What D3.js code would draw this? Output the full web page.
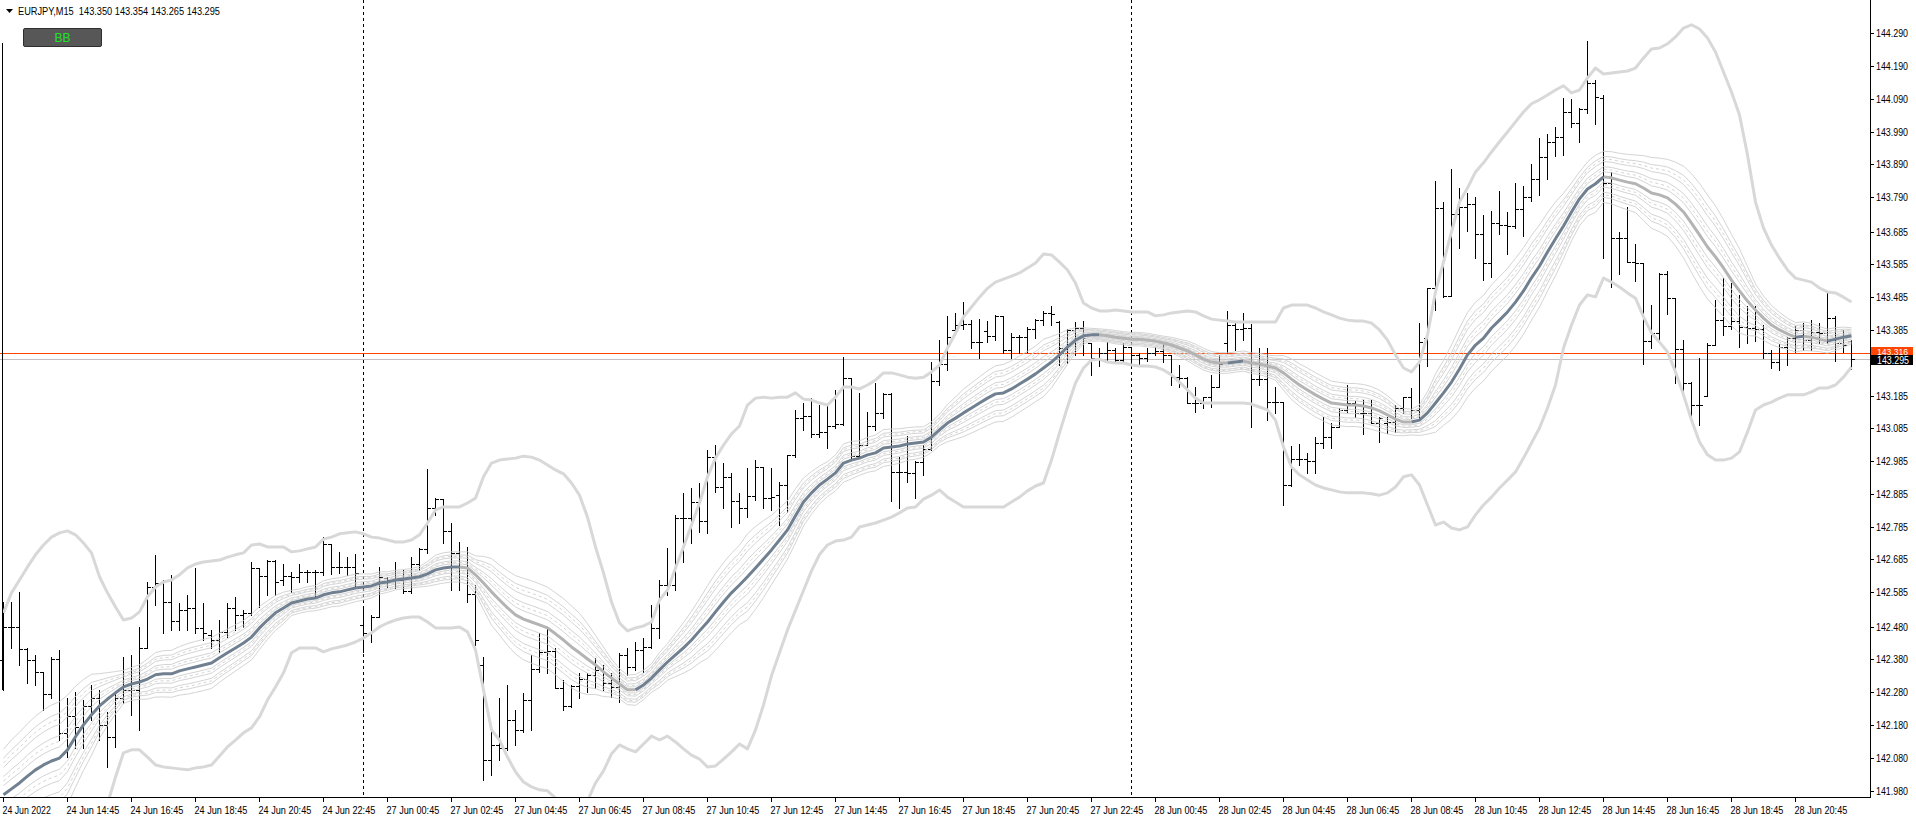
<!DOCTYPE html>
<html><head><meta charset="utf-8">
<script src="https://cdn.jsdelivr.net/npm/d3@7"></script>
<style>body{margin:0;background:#fff;overflow:hidden}text{font-family:"Liberation Sans",Arial,sans-serif}</style>
</head><body><svg id="c" width="1916" height="819"></svg>
<script>
const symbolLabel = "EURJPY,M15";
const headerValues = ["143.350","143.354","143.265","143.295"];
const askPrice = 143.316, bidPrice = 143.295;
const separatorBars = [45, 141];
const timeTickBars = [0,8,16,24,32,40,48,56,64,72,80,88,96,104,112,120,128,136,144,152,160,168,176,184,192,200,208,216,224];
const timeTickLabels = ["24 Jun 2022","24 Jun 14:45","24 Jun 16:45","24 Jun 18:45","24 Jun 20:45","24 Jun 22:45","27 Jun 00:45","27 Jun 02:45","27 Jun 04:45","27 Jun 06:45","27 Jun 08:45","27 Jun 10:45","27 Jun 12:45","27 Jun 14:45","27 Jun 16:45","27 Jun 18:45","27 Jun 20:45","27 Jun 22:45","28 Jun 00:45","28 Jun 02:45","28 Jun 04:45","28 Jun 06:45","28 Jun 08:45","28 Jun 10:45","28 Jun 12:45","28 Jun 14:45","28 Jun 16:45","28 Jun 18:45","28 Jun 20:45"];
const priceTickLabels = ["144.290","144.190","144.090","143.990","143.890","143.790","143.685","143.585","143.485","143.385","143.285","143.185","143.085","142.985","142.885","142.785","142.685","142.585","142.480","142.380","142.280","142.180","142.080","141.980"];

const opens = [142.378,142.479,142.479,142.412,142.378,142.342,142.275,142.381,142.156,142.208,
142.174,142.238,142.262,142.180,142.144,142.262,142.287,142.287,142.415,142.601,
142.613,142.555,142.497,142.531,142.537,142.476,142.455,142.439,142.464,142.537,
142.516,142.522,142.659,142.635,142.680,142.622,142.635,142.632,142.647,142.647,
142.647,142.732,142.662,142.662,142.662,142.485,142.461,142.509,142.628,142.622,
142.622,142.589,142.671,142.717,142.842,142.869,142.772,142.705,142.662,142.580,
142.363,142.073,142.119,142.110,142.195,142.165,142.256,142.351,142.403,142.406,
142.293,142.238,142.299,142.320,142.333,142.348,142.308,142.296,142.394,142.357,
142.409,142.418,142.476,142.607,142.607,142.812,142.812,142.860,142.802,142.997,
142.906,142.937,142.863,142.842,142.879,142.967,142.872,142.881,142.912,143.004,
143.116,143.122,143.068,143.074,143.092,143.098,143.238,143.000,143.034,143.092,
143.132,143.190,142.952,142.952,142.949,142.982,143.022,143.229,143.281,143.385,
143.400,143.403,143.348,143.382,143.367,143.428,143.324,143.363,143.363,143.388,
143.415,143.437,143.409,143.330,143.385,143.391,143.345,143.299,143.315,143.324,
143.293,143.333,143.309,143.299,143.315,143.321,143.309,143.241,143.238,143.162,
143.162,143.180,143.211,143.345,143.400,143.388,143.391,143.235,143.235,143.165,
143.165,142.912,142.991,142.991,142.985,143.040,143.058,143.089,143.141,143.162,
143.132,143.132,143.101,143.101,143.104,143.147,143.180,143.141,143.360,143.513,
143.757,143.489,143.739,143.760,143.769,143.678,143.589,143.711,143.705,143.702,
143.754,143.791,143.845,143.912,143.959,143.974,144.050,144.017,144.059,144.139,
144.093,143.833,143.665,143.665,143.592,143.589,143.351,143.376,143.556,143.482,
143.327,143.223,143.156,143.184,143.339,143.415,143.397,143.412,143.394,143.391,
143.388,143.315,143.287,143.333,143.360,143.385,143.354,143.379,143.376,143.421,
143.345,143.350];
const highs = [142.555,142.555,142.586,142.415,142.394,142.342,142.388,142.409,142.262,142.281,
142.256,142.302,142.287,142.220,142.278,142.388,142.394,142.479,142.616,142.699,
142.622,142.638,142.552,142.577,142.659,142.552,142.470,142.500,142.552,142.571,
142.531,142.677,142.659,142.683,142.683,142.671,142.647,142.671,142.653,142.653,
142.753,142.732,142.708,142.692,142.702,142.537,142.516,142.662,142.632,142.677,
142.653,142.692,142.720,142.961,142.872,142.869,142.796,142.738,142.723,142.607,
142.388,142.165,142.262,142.302,142.226,142.278,142.394,142.461,142.479,142.415,
142.317,142.302,142.339,142.339,142.385,142.363,142.339,142.400,142.415,142.433,
142.445,142.546,142.622,142.720,142.821,142.888,142.903,142.918,143.019,143.034,
142.979,142.949,142.888,142.964,142.988,142.967,142.964,142.921,143.004,143.141,
143.162,143.177,143.156,143.156,143.202,143.302,143.238,143.193,143.135,143.223,
143.193,143.193,142.997,143.061,142.985,143.034,143.287,143.354,143.428,143.437,
143.470,143.415,143.418,143.412,143.431,143.428,143.376,143.370,143.394,143.418,
143.443,143.458,143.412,143.388,143.409,143.412,143.345,143.330,143.348,143.330,
143.345,143.333,143.315,143.330,143.333,143.348,143.309,143.278,143.241,143.211,
143.180,143.248,143.309,143.443,143.412,143.437,143.403,143.330,143.330,143.211,
143.165,143.031,143.037,143.010,143.058,143.120,143.101,143.147,143.217,143.168,
143.171,143.171,143.120,143.120,143.156,143.180,143.208,143.406,143.513,143.839,
143.775,143.876,143.818,143.803,143.790,143.735,143.748,143.809,143.745,143.833,
143.824,143.891,143.971,143.983,144.005,144.093,144.090,144.062,144.267,144.148,
144.102,143.867,143.684,143.760,143.647,143.589,143.461,143.559,143.565,143.482,
143.354,143.226,143.300,143.345,143.476,143.544,143.528,143.492,143.458,143.458,
143.400,143.324,143.342,143.363,143.397,143.406,143.415,143.406,143.498,143.428,
143.385,143.354];
const lows = [142.287,142.415,142.363,142.308,142.302,142.226,142.262,142.134,142.082,142.110,
142.110,142.195,142.134,142.052,142.113,142.247,142.211,142.165,142.415,142.546,
142.461,142.470,142.470,142.470,142.461,142.439,142.415,142.403,142.448,142.470,
142.479,142.516,142.540,142.577,142.577,142.607,142.586,142.616,142.616,142.571,
142.638,142.641,142.644,142.638,142.601,142.403,142.433,142.509,142.601,142.598,
142.583,142.583,142.653,142.705,142.821,142.735,142.592,142.592,142.555,142.424,
142.012,142.028,142.073,142.104,142.119,142.159,142.165,142.342,142.339,142.293,
142.226,142.235,142.262,142.281,142.293,142.287,142.265,142.250,142.333,142.348,
142.342,142.415,142.445,142.577,142.592,142.677,142.735,142.769,142.766,142.891,
142.842,142.784,142.796,142.814,142.866,142.842,142.836,142.790,142.830,142.997,
143.080,143.058,143.058,143.025,143.086,143.095,142.994,142.997,143.034,143.080,
143.116,142.863,142.842,142.921,142.872,142.943,143.019,143.217,143.263,143.379,
143.388,143.330,143.300,143.348,143.354,143.315,143.300,143.315,143.318,143.360,
143.400,143.400,143.278,143.284,143.309,143.309,143.248,143.275,143.287,143.284,
143.287,143.278,143.281,143.290,143.309,143.287,143.217,143.211,143.162,143.135,
143.147,143.150,143.211,143.315,143.324,143.354,143.089,143.217,143.110,143.132,
142.851,142.909,142.973,142.949,142.949,143.025,143.025,143.089,143.135,143.120,
143.068,143.101,143.043,143.071,143.074,143.132,143.116,143.116,143.275,143.446,
143.486,143.489,143.635,143.687,143.604,143.537,143.546,143.678,143.617,143.696,
143.672,143.778,143.797,143.845,143.916,143.919,144.005,143.959,144.047,144.014,
143.604,143.516,143.556,143.592,143.534,143.281,143.330,143.351,143.433,143.223,
143.193,143.107,143.095,143.184,143.339,143.370,143.388,143.333,143.345,143.351,
143.299,143.269,143.263,143.278,143.318,143.324,143.324,143.345,143.345,143.290,
143.318,143.265];
const closes = [142.479,142.479,142.412,142.378,142.342,142.275,142.381,142.156,142.208,142.174,
142.238,142.262,142.180,142.144,142.262,142.287,142.287,142.415,142.601,142.613,
142.555,142.497,142.531,142.537,142.476,142.461,142.439,142.464,142.537,142.516,
142.522,142.659,142.635,142.680,142.616,142.635,142.632,142.647,142.647,142.647,
142.732,142.662,142.662,142.662,142.644,142.461,142.509,142.632,142.622,142.622,
142.589,142.671,142.717,142.842,142.869,142.772,142.705,142.662,142.580,142.439,
142.073,142.119,142.110,142.195,142.165,142.256,142.351,142.403,142.406,142.293,
142.238,142.299,142.320,142.333,142.348,142.308,142.296,142.394,142.357,142.409,
142.418,142.476,142.607,142.607,142.812,142.812,142.860,142.802,142.997,142.906,
142.937,142.863,142.842,142.879,142.967,142.872,142.875,142.912,143.004,143.116,
143.122,143.068,143.074,143.092,143.098,143.238,143.000,143.034,143.092,143.132,
143.190,142.952,142.952,142.949,142.982,143.022,143.229,143.281,143.363,143.400,
143.403,143.348,143.348,143.367,143.428,143.324,143.363,143.363,143.388,143.415,
143.437,143.434,143.330,143.385,143.391,143.360,143.299,143.315,143.324,143.293,
143.333,143.309,143.299,143.315,143.321,143.309,143.241,143.238,143.162,143.162,
143.180,143.211,143.281,143.400,143.388,143.391,143.235,143.235,143.165,143.165,
142.912,142.991,142.991,142.985,143.040,143.058,143.089,143.141,143.162,143.132,
143.132,143.101,143.116,143.104,143.147,143.180,143.141,143.348,143.513,143.757,
143.489,143.739,143.760,143.769,143.678,143.589,143.711,143.705,143.702,143.754,
143.791,143.845,143.912,143.959,143.974,144.050,144.017,144.059,144.139,144.096,
143.833,143.665,143.665,143.592,143.589,143.351,143.376,143.556,143.482,143.327,
143.223,143.156,143.156,143.339,143.415,143.397,143.412,143.394,143.391,143.388,
143.315,143.287,143.333,143.360,143.385,143.354,143.379,143.376,143.421,143.345,
143.339,143.295];

const bbMid = [141.967,141.985,142.003,142.024,142.043,142.058,142.070,142.079,142.104,142.144,
142.180,142.211,142.238,142.259,142.278,142.296,142.305,142.311,142.320,142.333,
142.336,142.336,142.345,142.351,142.357,142.363,142.369,142.385,142.400,142.415,
142.430,142.448,142.476,142.500,142.522,142.537,142.552,142.558,142.564,142.567,
142.577,142.583,142.586,142.592,142.598,142.601,142.604,142.613,142.616,142.622,
142.625,142.628,142.632,142.641,142.653,142.659,142.662,142.662,142.659,142.638,
142.613,142.586,142.561,142.537,142.516,142.503,142.494,142.485,142.476,142.458,
142.439,142.418,142.400,142.381,142.363,142.342,142.323,142.305,142.287,142.287,
142.302,142.323,142.348,142.372,142.394,142.415,142.439,142.467,142.494,142.525,
142.555,142.583,142.607,142.632,142.659,142.686,142.714,142.744,142.775,142.818,
142.860,142.888,142.912,142.930,142.949,142.979,142.988,142.994,143.004,143.010,
143.025,143.028,143.031,143.037,143.040,143.043,143.058,143.080,143.101,143.116,
143.132,143.147,143.162,143.177,143.190,143.193,143.205,143.220,143.235,143.251,
143.269,143.287,143.309,143.333,143.354,143.367,143.370,143.370,143.367,143.363,
143.360,143.357,143.357,143.354,143.351,143.345,143.339,143.330,143.321,143.309,
143.296,143.287,143.284,143.284,143.287,143.290,143.284,143.281,143.275,143.269,
143.254,143.235,143.217,143.202,143.187,143.174,143.162,143.159,143.156,143.156,
143.153,143.147,143.138,143.126,143.113,143.104,143.104,143.110,143.132,143.162,
143.193,143.226,143.266,143.309,143.339,143.360,143.391,143.415,143.440,143.470,
143.504,143.544,143.580,143.623,143.663,143.702,143.745,143.785,143.815,143.831,
143.852,143.849,143.842,143.836,143.831,143.818,143.803,143.797,143.788,143.769,
143.745,143.711,143.675,143.638,143.608,143.574,143.537,143.504,143.473,143.446,
143.421,143.400,143.385,143.373,143.363,143.366,143.363,143.357,143.351,143.357,
143.363,143.367];
const bbUpper = [142.522,142.583,142.622,142.662,142.699,142.729,142.753,142.766,142.772,142.760,
142.735,142.705,142.632,142.583,142.540,142.500,142.506,142.525,142.571,142.601,
142.616,142.622,142.638,142.659,142.671,142.677,142.680,142.683,142.692,142.699,
142.705,142.729,142.732,142.723,142.723,142.723,142.708,142.711,142.717,142.723,
142.747,142.753,142.763,142.766,142.769,142.763,142.753,142.750,142.744,142.738,
142.738,142.744,142.760,142.796,142.836,142.845,142.845,142.845,142.857,142.872,
142.937,142.979,142.988,142.991,142.994,143.000,142.997,142.988,142.973,142.958,
142.946,142.918,142.881,142.814,142.723,142.644,142.555,142.491,142.467,142.476,
142.482,142.494,142.561,142.592,142.659,142.723,142.790,142.857,142.937,142.994,
143.034,143.068,143.092,143.156,143.177,143.180,143.177,143.180,143.180,143.193,
143.174,143.171,143.162,143.156,143.180,143.211,143.211,143.205,143.217,143.232,
143.254,143.254,143.248,143.241,143.238,143.241,143.257,143.278,143.330,143.375,
143.425,143.455,143.485,143.512,143.531,143.540,143.549,143.559,143.574,143.589,
143.617,143.614,143.592,143.568,143.528,143.467,143.452,143.443,143.443,143.446,
143.443,143.440,143.440,143.440,143.428,143.431,143.437,143.440,143.443,143.440,
143.428,143.418,143.415,143.412,143.409,143.409,143.409,143.409,143.409,143.409,
143.452,143.461,143.461,143.461,143.452,143.440,143.431,143.421,143.415,143.412,
143.412,143.406,143.385,143.354,143.309,143.269,143.257,143.287,143.370,143.501,
143.592,143.684,143.775,143.818,143.867,143.895,143.928,143.959,143.989,144.020,
144.050,144.075,144.087,144.102,144.117,144.130,144.108,144.117,144.154,144.184,
144.166,144.169,144.172,144.175,144.184,144.215,144.242,144.245,144.258,144.279,
144.306,144.316,144.303,144.276,144.233,144.172,144.111,144.041,143.919,143.775,
143.696,143.644,143.604,143.568,143.543,143.537,143.531,143.513,143.501,143.498,
143.485,143.470];
const bbLower = [141.412,141.387,141.384,141.386,141.387,141.387,141.387,141.392,141.436,141.528,
141.625,141.717,141.844,141.939,142.021,142.095,142.104,142.104,142.082,142.058,
142.052,142.049,142.046,142.043,142.049,142.052,142.058,142.085,142.113,142.134,
142.156,142.171,142.205,142.256,142.296,142.339,142.400,142.415,142.415,142.415,
142.403,142.412,142.418,142.424,142.433,142.445,142.461,142.479,142.491,142.500,
142.506,142.509,142.509,142.494,142.476,142.476,142.476,142.479,142.464,142.409,
142.287,142.165,142.134,142.082,142.037,142.006,141.991,141.982,141.979,141.957,
141.933,141.918,141.918,141.948,142.003,142.040,142.092,142.119,142.107,142.098,
142.122,142.146,142.134,142.146,142.128,142.107,142.088,142.076,142.052,142.055,
142.076,142.098,142.122,142.107,142.165,142.241,142.330,142.400,142.470,142.530,
142.590,142.650,142.700,142.729,142.741,142.744,142.753,142.784,142.790,142.796,
142.805,142.814,142.827,142.842,142.845,142.869,142.881,142.897,142.875,142.860,
142.845,142.845,142.845,142.845,142.845,142.845,142.860,142.875,142.894,142.909,
142.918,142.988,143.071,143.150,143.223,143.269,143.293,143.296,143.287,143.284,
143.284,143.278,143.275,143.275,143.272,143.263,143.248,143.226,143.202,143.177,
143.162,143.162,143.162,143.162,143.162,143.162,143.159,143.150,143.141,143.110,
143.028,142.967,142.943,142.927,142.912,142.903,142.897,142.891,142.888,142.888,
142.888,142.885,142.881,142.888,142.906,142.937,142.943,142.912,142.851,142.790,
142.799,142.781,142.775,142.784,142.821,142.851,142.875,142.903,142.927,142.952,
142.994,143.040,143.086,143.147,143.217,143.330,143.400,143.461,143.492,143.486,
143.543,143.531,143.516,143.498,143.482,143.425,143.376,143.348,143.318,143.257,
143.187,143.110,143.043,143.004,142.988,142.988,142.994,143.013,143.074,143.141,
143.156,143.165,143.177,143.187,143.187,143.187,143.196,143.208,143.208,143.217,
143.241,143.272];
// deviation levels of the inner ribbon (fraction of one standard deviation)
const ribbonSolidLevels = [0.1, 0.2, 0.3, 0.4, 0.5];
const ribbonDashedLevels = [0.15, 0.35];

const n = closes.length;
const svg = d3.select('#c');
const PR = 1870, PB = 797;
const x = d3.scaleLinear().domain([0, n - 1]).range([3.5, 1851.5]);
const y = d3.scaleLinear().domain([141.980, 144.290]).range([790.5, 33.3]);

svg.append('defs').append('clipPath').attr('id', 'clip')
  .append('rect').attr('x', 0).attr('y', 0).attr('width', PR).attr('height', PB);

const plot = svg.append('g').attr('clip-path', 'url(#clip)');

// price lines
plot.append('line').attr('x1', 0).attr('x2', PR)
  .attr('y1', Math.round(y(bidPrice)) + 0.5).attr('y2', Math.round(y(bidPrice)) + 0.5)
  .attr('stroke', '#c0c0c0').attr('stroke-width', 1);
plot.append('line').attr('x1', 0).attr('x2', PR)
  .attr('y1', Math.round(y(askPrice)) + 0.5).attr('y2', Math.round(y(askPrice)) + 0.5)
  .attr('stroke', '#ff4500').attr('stroke-width', 1);

// period separators
separatorBars.forEach(b => {
  plot.append('line').attr('x1', x(b)).attr('x2', x(b)).attr('y1', 0).attr('y2', PB)
    .attr('stroke', '#000').attr('stroke-width', 1).attr('stroke-dasharray', '3,3');
});

// OHLC bars
plot.append('g').selectAll('path').data(d3.range(n)).join('path')
  .attr('d', i => {
    const cx = x(i);
    const yh = Math.round(y(highs[i])), yl = Math.round(y(lows[i]));
    const yo = Math.round(y(opens[i])) + 0.5, yc = Math.round(y(closes[i])) + 0.5;
    return `M${cx},${yh}V${yl + 1}M${cx - 3.5},${yo}H${cx}M${cx},${yc}H${cx + 3.5}`;
  })
  .attr('stroke', '#000').attr('stroke-width', 1).attr('fill', 'none')
  .attr('shape-rendering', 'crispEdges');

// ribbon lines
const sigma = i => (bbUpper[i] - bbLower[i]) / 4;
const lineGen = d3.line().x(d => x(d.i)).y(d => y(d.v));
const addRibbon = (levels, dash) => {
  levels.forEach(m => {
    [1, -1].forEach(s => {
      const pts = d3.range(n).map(i => ({ i, v: bbMid[i] + s * m * sigma(i) }));
      plot.append('path').attr('d', lineGen(pts)).attr('fill', 'none')
        .attr('stroke', '#d4d4d4').attr('stroke-width', 1)
        .attr('stroke-dasharray', dash || null);
    });
  });
};
addRibbon(ribbonSolidLevels, null);
addRibbon(ribbonDashedLevels, '3,3');

// outer bands
[bbUpper, bbLower].forEach(arr => {
  plot.append('path').attr('d', lineGen(arr.map((v, i) => ({ i, v }))))
    .attr('fill', 'none').attr('stroke', '#d8d8d8').attr('stroke-width', 3)
    .attr('stroke-linejoin', 'round');
});

// middle line, coloured by direction
const runs = [];
let cur = null, prevUp = true;
for (let i = 1; i < n; i++) {
  let up = bbMid[i] > bbMid[i - 1] ? true : bbMid[i] < bbMid[i - 1] ? false : prevUp;
  prevUp = up;
  const col = up ? '#708090' : '#b4b4b4';
  if (!cur || cur.col !== col) { cur = { col, pts: [{ i: i - 1, v: bbMid[i - 1] }] }; runs.push(cur); }
  cur.pts.push({ i, v: bbMid[i] });
}
runs.forEach(r => plot.append('path').attr('d', lineGen(r.pts)).attr('fill', 'none')
  .attr('stroke', r.col).attr('stroke-width', 3).attr('stroke-linejoin', 'round'));

// frame
svg.append('line').attr('x1', PR + 0.5).attr('x2', PR + 0.5).attr('y1', 0).attr('y2', PB + 1)
  .attr('stroke', '#000');
svg.append('line').attr('x1', 0).attr('x2', PR + 1).attr('y1', PB + 0.5).attr('y2', PB + 0.5)
  .attr('stroke', '#000');
svg.append('line').attr('x1', 2.5).attr('x2', 2.5).attr('y1', 43).attr('y2', 690)
  .attr('stroke', '#000');

// price axis (labels hidden behind the price boxes are not drawn, as in the terminal)
const askY = y(askPrice), bidY = y(bidPrice);
const pAxis = svg.append('g');
priceTickLabels.forEach(l => {
  const yy = Math.round(y(+l)) + 0.5;
  pAxis.append('line').attr('x1', PR).attr('x2', PR + 4).attr('y1', yy).attr('y2', yy).attr('stroke', '#000');
  if (Math.abs(yy - bidY) < 9 || Math.abs(yy - askY) < 9) return;
  pAxis.append('text').attr('x', PR + 6).attr('y', yy + 3.5).attr('font-size', 10)
    .attr('textLength', 32).attr('lengthAdjust', 'spacingAndGlyphs').attr('fill', '#000').text(l);
});

// time axis
const tAxis = svg.append('g');
timeTickBars.forEach((b, k) => {
  const xx = x(b);
  tAxis.append('line').attr('x1', xx).attr('x2', xx).attr('y1', PB).attr('y2', PB + 5).attr('stroke', '#000');
  const lbl = timeTickLabels[k];
  tAxis.append('text').attr('x', xx - 1).attr('y', 814).attr('font-size', 10)
    .attr('textLength', lbl.length * 4.4).attr('lengthAdjust', 'spacingAndGlyphs').attr('fill', '#000').text(lbl);
});

// price boxes
svg.append('rect').attr('x', 1871).attr('y', Math.round(askY) - 6).attr('width', 42).attr('height', 11).attr('fill', '#ff4500');
svg.append('text').attr('x', 1877).attr('y', Math.round(askY) + 1.5).attr('font-size', 8.5).attr('fill', '#fff')
  .attr('textLength', 31).attr('lengthAdjust', 'spacingAndGlyphs').text(askPrice.toFixed(3));
svg.append('rect').attr('x', 1871).attr('y', Math.round(bidY) - 4).attr('width', 42).attr('height', 10).attr('fill', '#000');
svg.append('text').attr('x', 1877).attr('y', Math.round(bidY) + 4.5).attr('font-size', 10).attr('fill', '#fff')
  .attr('textLength', 32).attr('lengthAdjust', 'spacingAndGlyphs').text(bidPrice.toFixed(3));

// header
svg.append('path').attr('d', 'M6,9L13,9L9.5,13Z').attr('fill', '#000');
svg.append('text').attr('x', 18).attr('y', 15).attr('font-size', 10).attr('fill', '#000')
  .style('white-space', 'pre').attr('textLength', 202).attr('lengthAdjust', 'spacingAndGlyphs')
  .text(symbolLabel + '  ' + headerValues.join(' '));

// BB button
svg.append('rect').attr('x', 23.5).attr('y', 28.5).attr('width', 78).attr('height', 18)
  .attr('rx', 1.5).attr('fill', '#575757').attr('stroke', '#2e2e2e');
svg.append('text').attr('x', 62.5).attr('y', 42).attr('text-anchor', 'middle').attr('font-size', 12)
  .attr('fill', '#22e022').text('BB');
</script></body></html>
